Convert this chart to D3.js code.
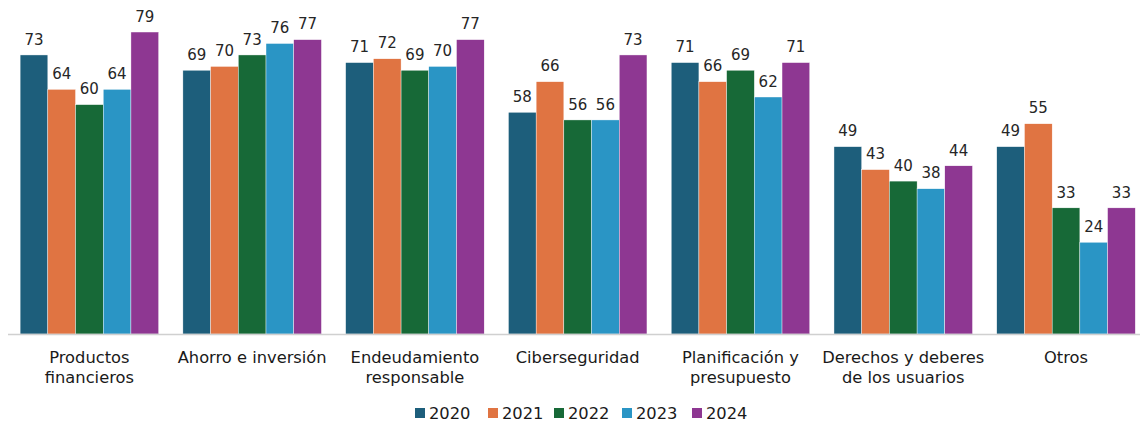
<!DOCTYPE html>
<html><head><meta charset="utf-8">
<script src="https://cdn.jsdelivr.net/npm/d3@7"></script>
<style>body{margin:0;background:#fff;} svg{display:block;font-family:"DejaVu Sans",Verdana,sans-serif;}</style>
</head><body>
<svg id="chart" width="1140" height="421"></svg>
<script>
const categories = [
  ["Productos", "financieros"],
  ["Ahorro e inversión"],
  ["Endeudamiento", "responsable"],
  ["Ciberseguridad"],
  ["Planificación y", "presupuesto"],
  ["Derechos y deberes", "de los usuarios"],
  ["Otros"]
];
const years = ["2020", "2021", "2022", "2023", "2024"];
const v2020 = [73, 69, 71, 58, 71, 49, 49];
const v2021 = [64, 70, 72, 66, 66, 43, 55];
const v2022 = [60, 73, 69, 56, 69, 40, 33];
const v2023 = [64, 76, 70, 56, 62, 38, 24];
const v2024 = [79, 77, 77, 73, 71, 44, 33];
const colors = ["#1d5e7b", "#e07442", "#176937", "#2a95c5", "#8e3792"];

const series = [v2020, v2021, v2022, v2023, v2024];
const svg = d3.select("#chart");
const baseY = 334;
const x0 = d3.scaleBand().domain(d3.range(categories.length)).range([8, 1147.4]).paddingInner(0.149).paddingOuter(0.0745);
const x1 = d3.scaleBand().domain(years).range([0, x0.bandwidth()]);
const y = d3.scaleLinear().domain([0, 80]).range([baseY, 28.2]);

const g = svg.append("g");
categories.forEach((c, i) => {
  const gg = g.append("g").attr("transform", `translate(${x0(i)},0)`);
  years.forEach((yr, k) => {
    const v = series[k][i];
    gg.append("rect").attr("x", x1(yr)).attr("y", y(v)).attr("width", x1.bandwidth()).attr("height", baseY - y(v))
      .attr("fill", colors[k]).attr("stroke", "#fff").attr("stroke-width", 0.4);
    gg.append("text").attr("x", x1(yr) + x1.bandwidth() / 2).attr("y", y(v) - 10.3)
      .attr("text-anchor", "middle").attr("font-size", 15).attr("fill", "#262626").text(v);
  });
});

svg.append("line").attr("x1", 8).attr("x2", 1140).attr("y1", baseY + 0.5).attr("y2", baseY + 0.5)
  .attr("stroke", "#d0d0d0").attr("stroke-width", 1.5);

categories.forEach((c, i) => {
  const t = svg.append("text").attr("x", x0(i) + x0.bandwidth() / 2).attr("y", 362.5)
    .attr("text-anchor", "middle").attr("font-size", 16.3).attr("fill", "#1a1a1a");
  c.forEach((line, j) => t.append("tspan").attr("x", x0(i) + x0.bandwidth() / 2).attr("dy", j ? 20.5 : 0).text(line));
});

const legX = [415, 488, 554, 622, 692];
const lg = svg.append("g");
years.forEach((yr, k) => {
  lg.append("rect").attr("x", legX[k]).attr("y", 408).attr("width", 10).attr("height", 10).attr("fill", colors[k]);
  lg.append("text").attr("x", legX[k] + 14).attr("y", 418.5).attr("font-size", 16.3).attr("fill", "#1a1a1a").text(yr);
});
</script>
</body></html>
